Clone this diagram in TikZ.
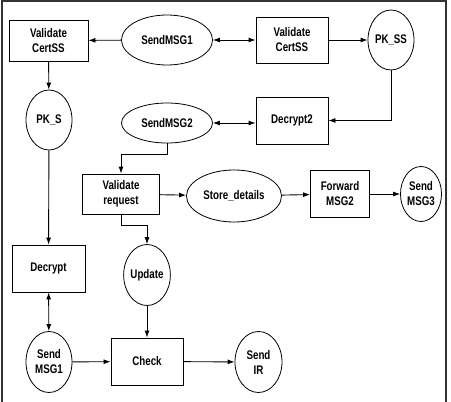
\documentclass[tikz,border=0pt]{standalone}
\usepackage{fontspec}
\setmainfont[FakeStretch=0.78]{Liberation Sans}
\usetikzlibrary{shapes.geometric,arrows.meta}

\begin{document}
\begin{tikzpicture}[x=1pt,y=-1pt,
  every node/.style={inner sep=0pt,align=center,font=\fontsize{12.5}{15}\selectfont\bfseries},
  box/.style={draw,line width=0.9pt,rectangle},
  oval/.style={draw,line width=0.8pt,ellipse},
  link/.style={line width=0.9pt,-{Latex[length=7pt,width=5pt]}},
  twoway/.style={line width=0.9pt,{Latex[length=7pt,width=5pt]}-{Latex[length=7pt,width=5pt]}}]
          \useasboundingbox (0,0) rectangle (451,402);
          \draw [line width=1.6pt,black!80] (2,420) -- (2,1) -- (446,1) -- (446,420);
          \node [box,minimum width=79pt,minimum height=41pt] (vcs1) at (48.5,40.5) {Validate\\CertSS};
          \node [oval,minimum width=91pt,minimum height=50pt] (msg1) at (167,40) {SendMSG1};
          \node [box,minimum width=72pt,minimum height=46pt] (vcs2) at (292,40) {Validate\\CertSS};
          \node [oval,minimum width=46pt,minimum height=60pt] (pkss) at (391,40) {PK\_SS};
          \node [box,minimum width=72pt,minimum height=47pt] (dec2) at (292,120.5) {Decrypt2};
          \node [oval,minimum width=91pt,minimum height=40pt] (msg2) at (167,123) {SendMSG2};
          \node [oval,minimum width=46pt,minimum height=60pt] (pks) at (49,120) {PK\_S};
          \node [box,minimum width=77pt,minimum height=40pt] (vreq) at (121,194) {Validate\\request};
          \node [oval,minimum width=95pt,minimum height=52pt] (store) at (234,196) {Store\_details};
          \node [box,minimum width=59pt,minimum height=47pt] (fwd) at (340,194) {Forward\\MSG2};
          \node [oval,minimum width=41pt,minimum height=55pt] (msg3) at (421,194) {Send\\MSG3};
          \node [box,minimum width=73pt,minimum height=47pt] (dec) at (48.5,268.5) {Decrypt};
          \node [oval,minimum width=46pt,minimum height=61pt] (upd) at (147,275) {Update};
          \node [oval,minimum width=46pt,minimum height=61pt] (smsg1) at (49,362) {Send\\MSG1};
          \node [box,minimum width=72pt,minimum height=47pt] (chk) at (147,361.5) {Check};
          \node [oval,minimum width=47pt,minimum height=61pt] (sir) at (258.5,362) {Send\\IR};
          \coordinate (bend1) at (167,154);
          \coordinate (bend2) at (121,225);
          \draw [link] (msg1) -- (vcs1);
          \draw [twoway] (msg1) -- (vcs2);
          \draw [link] (vcs2) -- (pkss);
          \draw [link] (pkss.south) |- (dec2.east);
          \draw [twoway] (msg2) -- (dec2.west |- msg2);
          \draw [link] (msg2.south) -- (bend1) -| (vreq.north);
          \draw [link] (vreq) -- (store);
          \draw [link] (store) -- (fwd);
          \draw [link] (fwd) -- (msg3);
          \draw [link] (vreq.south) -- (bend2) -| (upd.north);
          \draw [link] (upd) -- (chk);
          \draw [link] (vcs1) -- (pks);
          \draw [link] (pks) -- (dec);
          \draw [twoway] (dec) -- (smsg1);
          \draw [link] (smsg1) -- (chk);
          \draw [link] (chk) -- (sir);
          \end{tikzpicture}
\end{document}
